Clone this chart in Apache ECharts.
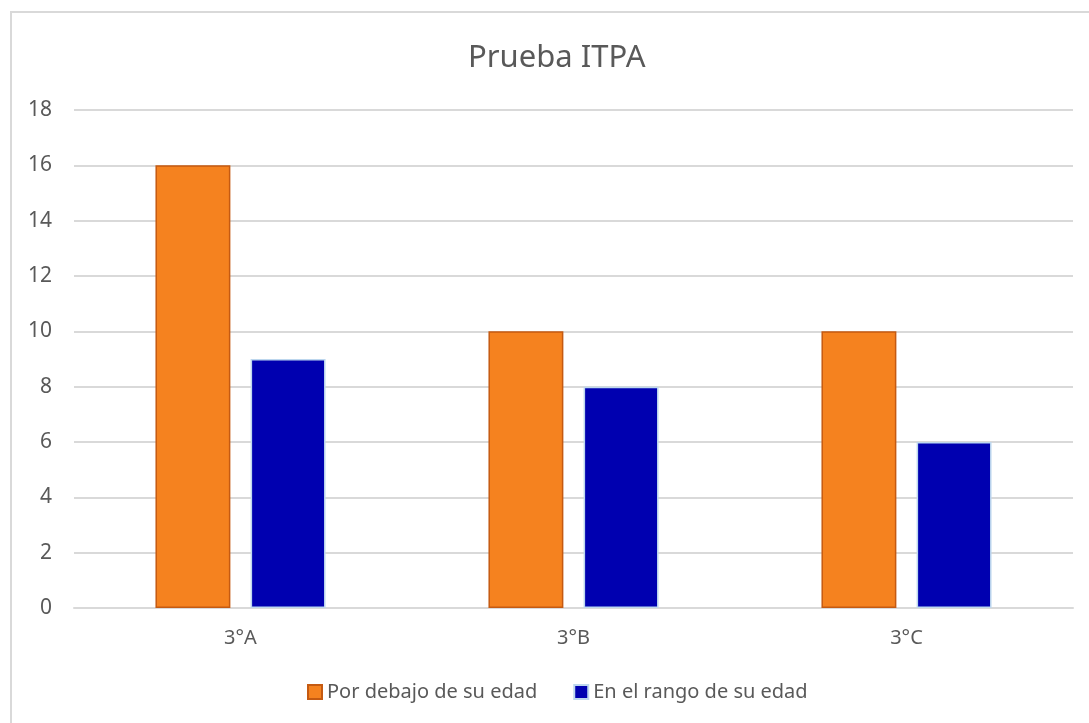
<!DOCTYPE html>
<html>
<head>
<meta charset="utf-8">
<script src="https://cdn.jsdelivr.net/npm/echarts@6/dist/echarts.min.js"></script>
<style>
  html, body { margin: 0; padding: 0; width: 1089px; height: 723px; overflow: hidden; background: #fff; }
  #frame { position: absolute; left: 10px; top: 11px; width: 1200px; height: 800px;
           border-left: 2px solid #d9d9d9; border-top: 2px solid #d9d9d9; }
  #chart { position: absolute; left: 0; top: 0; width: 1089px; height: 723px; }
</style>
</head>
<body>
<div id="frame"></div>
<div id="chart"></div>
<script>
var categories = ['3°A', '3°B', '3°C']
var porDebajo = [16, 10, 10]
var enRango = [9, 8, 6]
var yTicks = { min: 0, max: 18, interval: 2 }

var myChart = echarts.init(document.getElementById('chart'))
var textColor = '#595959'
var font = 'Noto Sans'

var option = {
  backgroundColor: 'transparent',
  title: {
    text: 'Prueba ITPA',
    left: 463,
    top: 38,
    textStyle: { color: textColor, fontSize: 31, fontWeight: 'normal', fontFamily: font }
  },
  legend: {
    bottom: 16,
    left: 302,
    itemWidth: 14,
    itemHeight: 14,
    itemGap: 36,
    icon: 'rect',
    textStyle: { color: textColor, fontSize: 20, fontFamily: font },
    data: ['Por debajo de su edad', 'En el rango de su edad']
  },
  grid: {
    left: 74,
    right: 16,
    top: 110,
    bottom: 115
  },
  xAxis: {
    type: 'category',
    data: categories,
    axisLine: { lineStyle: { color: '#d9d9d9', width: 2 } },
    axisTick: { show: false },
    axisLabel: { color: textColor, fontSize: 20, fontFamily: font, margin: 20 }
  },
  yAxis: {
    type: 'value',
    min: yTicks.min,
    max: yTicks.max,
    interval: yTicks.interval,
    axisLine: { show: false },
    axisTick: { show: false },
    axisLabel: { color: textColor, fontSize: 21, fontFamily: font, margin: 22 },
    splitLine: { lineStyle: { color: '#d9d9d9', width: 2 } }
  },
  series: [
    {
      name: 'Por debajo de su edad',
      type: 'bar',
      data: porDebajo,
      barWidth: '22.5%',
      barGap: '27%',
      itemStyle: { color: '#f5821f', borderColor: '#c55a11', borderWidth: 1.5 }
    },
    {
      name: 'En el rango de su edad',
      type: 'bar',
      data: enRango,
      barWidth: '22.5%',
      itemStyle: { color: '#0000b0', borderColor: '#bdd7ee', borderWidth: 1.5 }
    }
  ]
}
myChart.setOption(option)
</script>
</body>
</html>
